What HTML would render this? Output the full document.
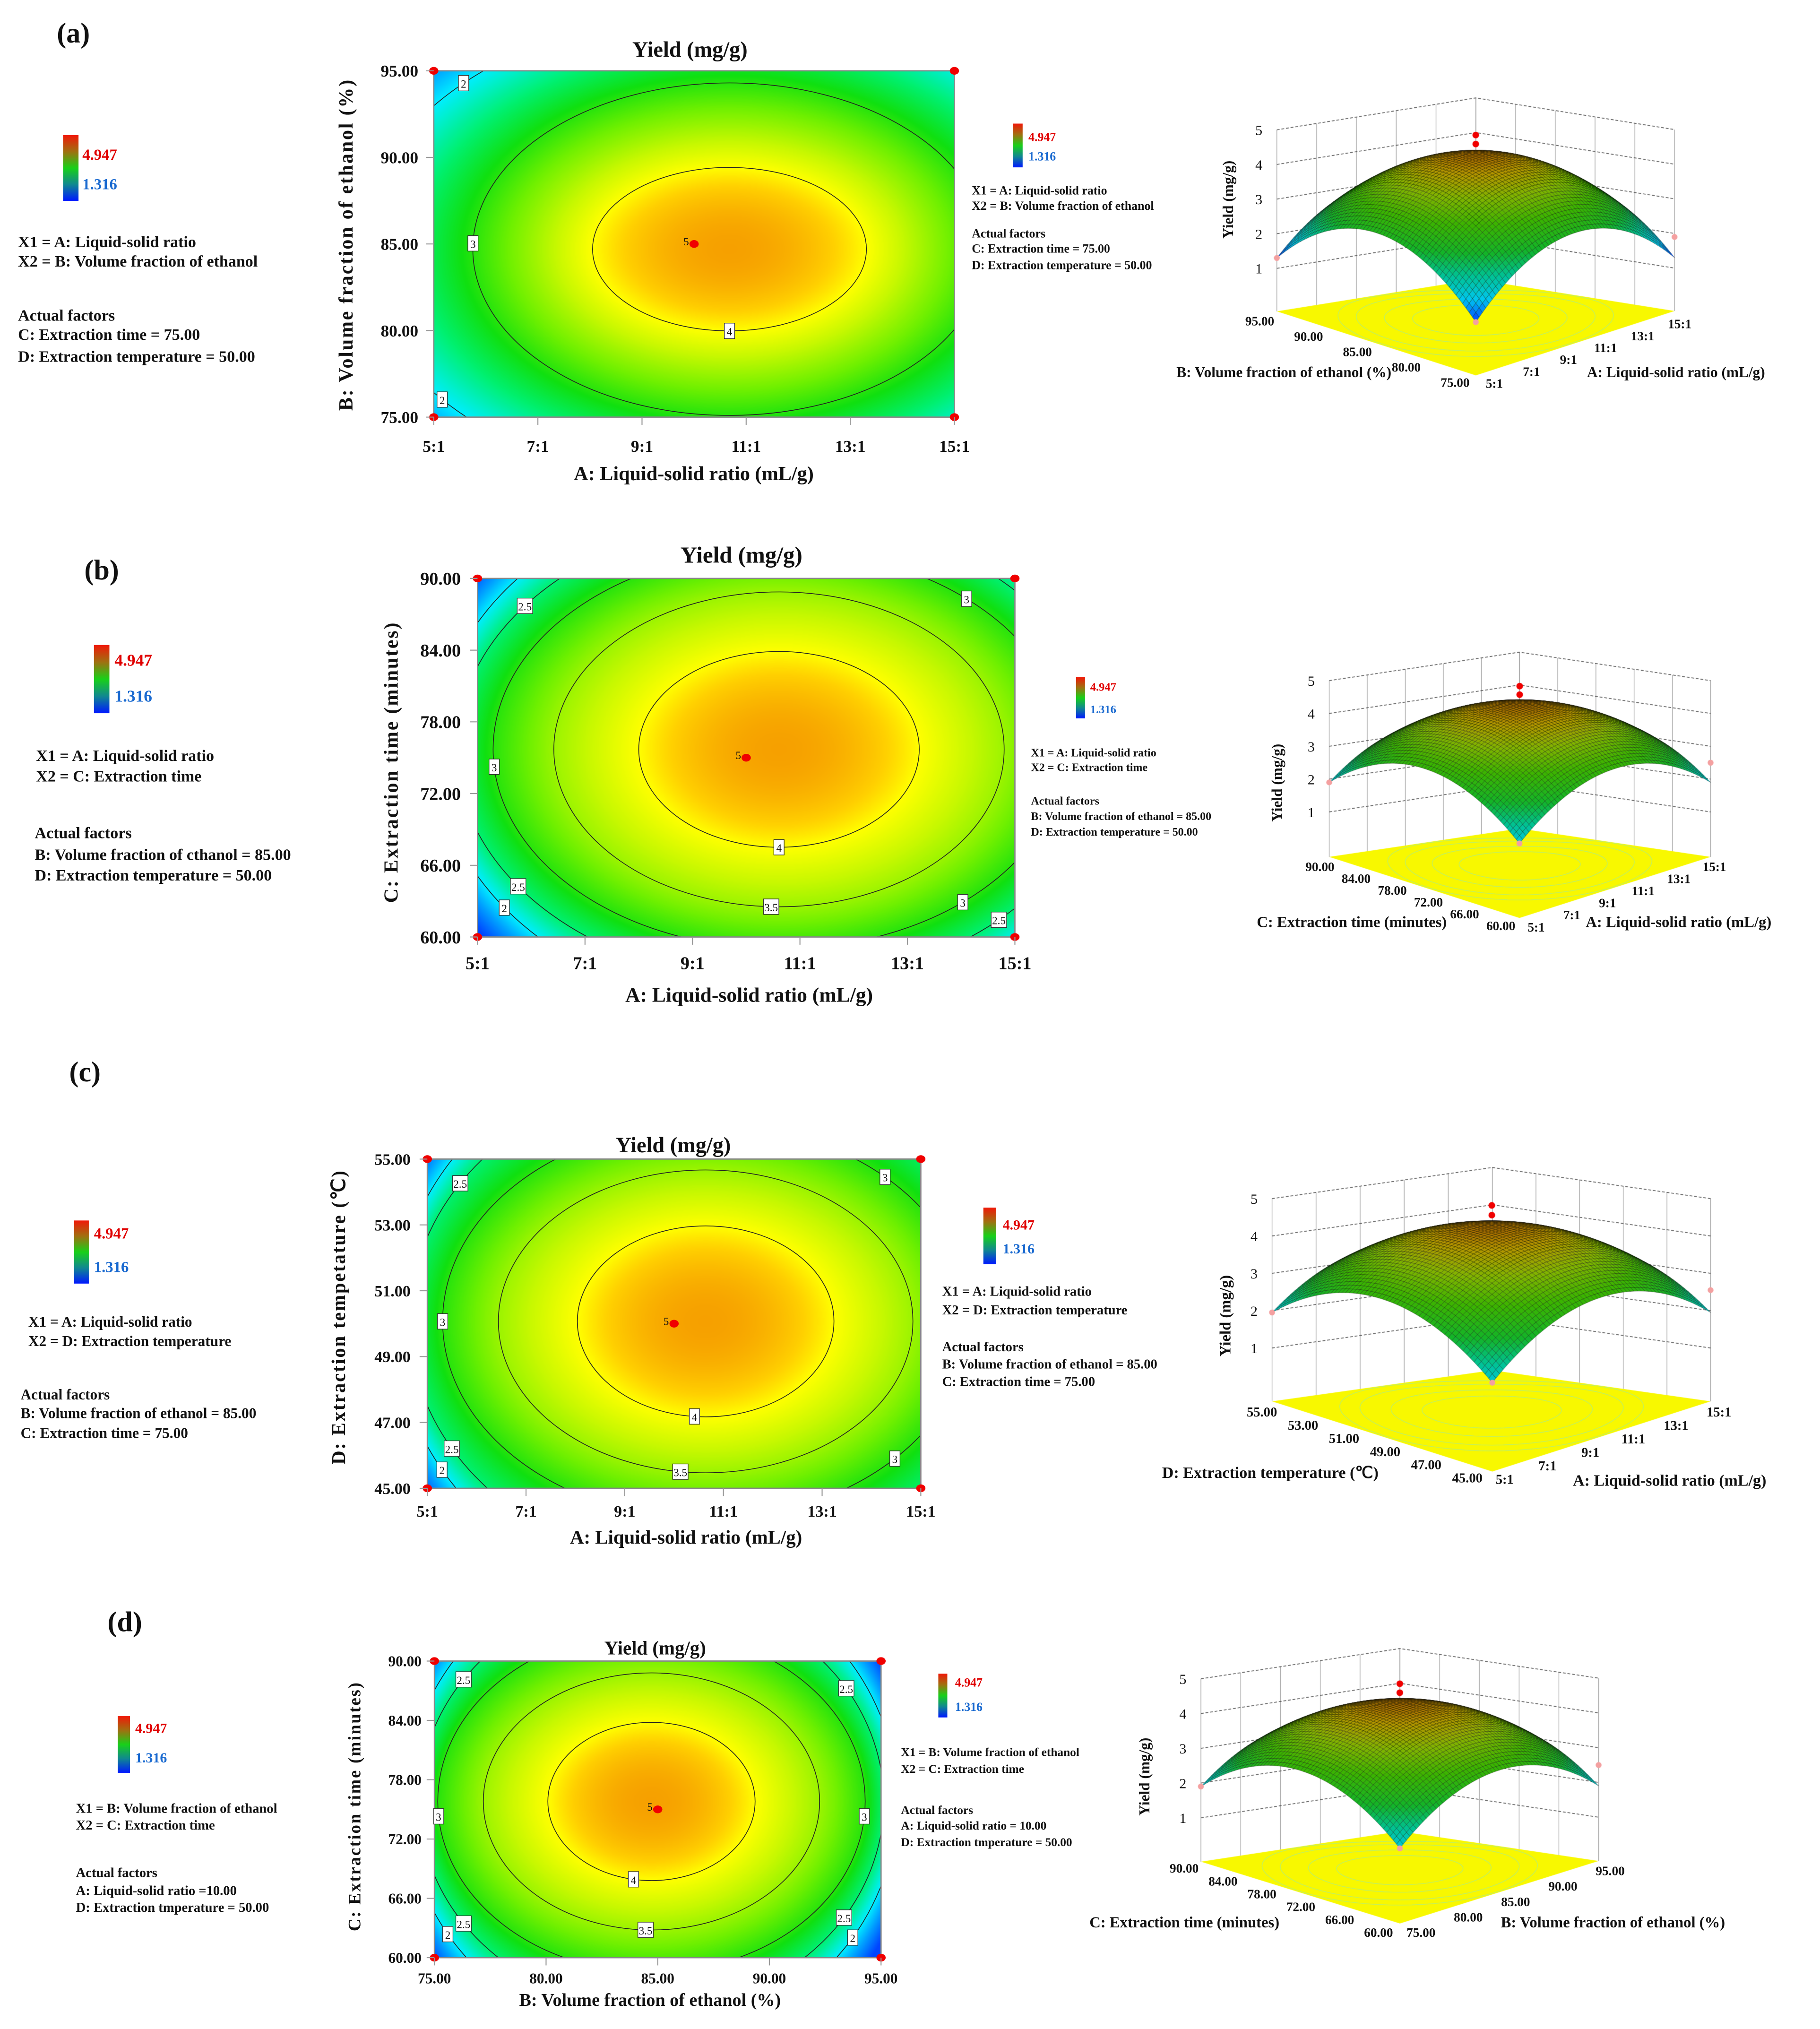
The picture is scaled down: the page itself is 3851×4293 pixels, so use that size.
<!DOCTYPE html>
<html><head><meta charset="utf-8"><title>Response surface plots</title>
<style>
html,body{margin:0;padding:0;background:#fff}
#wrap{position:relative;width:3851px;height:4293px;overflow:hidden;background:#fff}
#cv,#sv{position:absolute;left:0;top:0}
text{font-family:"Liberation Serif",serif;font-weight:bold;fill:#111}
.r{font-weight:normal}
</style></head>
<body>
<div id="wrap">
<canvas id="cv" width="3851" height="4293"></canvas>
<svg id="sv" width="3851" height="4293" viewBox="0 0 1414 1576" preserveAspectRatio="none" xmlns="http://www.w3.org/2000/svg">
<defs>
<linearGradient id="cbar" x1="0" y1="0" x2="0" y2="1">
<stop offset="0" stop-color="#f01808"/><stop offset="0.25" stop-color="#a07010"/><stop offset="0.5" stop-color="#18d018"/><stop offset="0.75" stop-color="#108890"/><stop offset="1" stop-color="#0018ff"/>
</linearGradient>
</defs>

<!-- ===== Panel (a) ===== -->
<text x="57" y="33" font-size="22" text-anchor="middle">(a)</text>
<rect x="49" y="105" width="12" height="51" fill="url(#cbar)"/>
<text x="64" y="124" font-size="12" style="fill:#e00000">4.947</text>
<text x="64" y="147" font-size="12" style="fill:#1a6ad0">1.316</text>
<g font-size="12.5">
<text x="14" y="192">X1 = A: Liquid-solid ratio</text>
<text x="14" y="207">X2 = B: Volume fraction of ethanol</text>
<text x="14" y="249">Actual factors</text>
<text x="14" y="264">C: Extraction time = 75.00</text>
<text x="14" y="281">D: Extraction temperature = 50.00</text>
</g>
<text x="536" y="44" font-size="17" text-anchor="middle">Yield (mg/g)</text>
<text x="539" y="373" font-size="15.5" text-anchor="middle">A: Liquid-solid ratio (mL/g)</text>
<text transform="translate(274,190) rotate(-90)" font-size="15.5" text-anchor="middle" letter-spacing="1">B: Volume fraction of ethanol (%)</text>
<rect x="787" y="96" width="7.5" height="34" fill="url(#cbar)"/>
<text x="799" y="109.5" font-size="9.5" style="fill:#e00000">4.947</text>
<text x="799" y="124.7" font-size="9.5" style="fill:#1a6ad0">1.316</text>
<g font-size="9.5">
<text x="755" y="151">X1 = A: Liquid-solid ratio</text>
<text x="755" y="163">X2 = B: Volume fraction of ethanol</text>
<text x="755" y="184.5">Actual factors</text>
<text x="755" y="196.3">C: Extraction time = 75.00</text>
<text x="755" y="209">D: Extraction temperature = 50.00</text>
</g>
<text transform="translate(958,155) rotate(-90)" font-size="11.5" text-anchor="middle">Yield (mg/g)</text>
<text x="1081" y="293" font-size="11.5" text-anchor="end">B: Volume fraction of ethanol (%)</text>
<text x="1233" y="293" font-size="11.5">A: Liquid-solid ratio (mL/g)</text>

<!-- ===== Panel (b) ===== -->
<text x="79" y="450" font-size="22" text-anchor="middle">(b)</text>
<rect x="73" y="501" width="12" height="53" fill="url(#cbar)"/>
<text x="89" y="517" font-size="13" style="fill:#e00000">4.947</text>
<text x="89" y="545" font-size="13" style="fill:#1a6ad0">1.316</text>
<g font-size="12.5">
<text x="28" y="591">X1 = A: Liquid-solid ratio</text>
<text x="28" y="607">X2 = C: Extraction time</text>
<text x="27" y="651">Actual factors</text>
<text x="27" y="668">B: Volume fraction of cthanol = 85.00</text>
<text x="27" y="684">D: Extraction temperature = 50.00</text>
</g>
<text x="576" y="437" font-size="18" text-anchor="middle">Yield (mg/g)</text>
<text x="582" y="778" font-size="16" text-anchor="middle">A: Liquid-solid ratio (mL/g)</text>
<text transform="translate(309,592) rotate(-90)" font-size="15.5" text-anchor="middle" letter-spacing="1">C: Extraction time (minutes)</text>
<rect x="836" y="526" width="7" height="32" fill="url(#cbar)"/>
<text x="847" y="536.5" font-size="9" style="fill:#e00000">4.947</text>
<text x="847" y="554" font-size="9" style="fill:#1a6ad0">1.316</text>
<g font-size="8.8">
<text x="801" y="587.5">X1 = A: Liquid-solid ratio</text>
<text x="801" y="599">X2 = C: Extraction time</text>
<text x="801" y="625">Actual factors</text>
<text x="801" y="637">B: Volume fraction of ethanol = 85.00</text>
<text x="801" y="649">D: Extraction temperature = 50.00</text>
</g>
<text transform="translate(996,608) rotate(-90)" font-size="11.5" text-anchor="middle">Yield (mg/g)</text>
<text x="1124" y="720" font-size="12" text-anchor="end">C: Extraction time (minutes)</text>
<text x="1232" y="720" font-size="12">A: Liquid-solid ratio (mL/g)</text>

<!-- ===== Panel (c) ===== -->
<text x="66" y="840" font-size="22" text-anchor="middle">(c)</text>
<rect x="57.5" y="948" width="11.5" height="49" fill="url(#cbar)"/>
<text x="73" y="962" font-size="12" style="fill:#e00000">4.947</text>
<text x="73" y="988" font-size="12" style="fill:#1a6ad0">1.316</text>
<g font-size="11.5">
<text x="22" y="1030.5">X1 = A: Liquid-solid ratio</text>
<text x="22" y="1045.5">X2 = D: Extraction temperature</text>
<text x="16" y="1087">Actual factors</text>
<text x="16" y="1101.5">B: Volume fraction of ethanol = 85.00</text>
<text x="16" y="1117">C: Extraction time = 75.00</text>
</g>
<text x="523" y="895" font-size="17" text-anchor="middle">Yield (mg/g)</text>
<text x="533" y="1199" font-size="15" text-anchor="middle">A: Liquid-solid ratio (mL/g)</text>
<text transform="translate(268,1023) rotate(-90)" font-size="15" text-anchor="middle" letter-spacing="1">D: Extraction tempetature (℃)</text>
<rect x="764" y="938" width="10" height="44" fill="url(#cbar)"/>
<text x="779" y="955" font-size="11" style="fill:#e00000">4.947</text>
<text x="779" y="973.5" font-size="11" style="fill:#1a6ad0">1.316</text>
<g font-size="10.5">
<text x="732" y="1006.5">X1 = A: Liquid-solid ratio</text>
<text x="732" y="1021">X2 = D: Extraction temperature</text>
<text x="732" y="1049.5">Actual factors</text>
<text x="732" y="1063">B: Volume fraction of ethanol = 85.00</text>
<text x="732" y="1076.5">C: Extraction time = 75.00</text>
</g>
<text transform="translate(956,1022) rotate(-90)" font-size="12" text-anchor="middle">Yield (mg/g)</text>
<text x="1071" y="1148" font-size="12.5" text-anchor="end">D: Extraction temperature (℃)</text>
<text x="1222" y="1154" font-size="12.5">A: Liquid-solid ratio (mL/g)</text>

<!-- ===== Panel (d) ===== -->
<text x="97" y="1267" font-size="22" text-anchor="middle">(d)</text>
<rect x="91.5" y="1333" width="9.5" height="44" fill="url(#cbar)"/>
<text x="105" y="1346" font-size="11" style="fill:#e00000">4.947</text>
<text x="105" y="1369" font-size="11" style="fill:#1a6ad0">1.316</text>
<g font-size="10.5">
<text x="59" y="1408">X1 = B: Volume fraction of ethanol</text>
<text x="59" y="1421">X2 = C: Extraction time</text>
<text x="59" y="1458">Actual factors</text>
<text x="59" y="1472">A: Liquid-solid ratio =10.00</text>
<text x="59" y="1485">D: Extraction tmperature = 50.00</text>
</g>
<text x="509" y="1285" font-size="15" text-anchor="middle">Yield (mg/g)</text>
<text x="505" y="1558" font-size="14" text-anchor="middle">B: Volume fraction of ethanol (%)</text>
<text transform="translate(280,1403) rotate(-90)" font-size="13.5" text-anchor="middle" letter-spacing="1">C: Extraction time (minutes)</text>
<rect x="729" y="1300" width="7" height="34" fill="url(#cbar)"/>
<text x="742" y="1310" font-size="9.5" style="fill:#e00000">4.947</text>
<text x="742" y="1329" font-size="9.5" style="fill:#1a6ad0">1.316</text>
<g font-size="9.3">
<text x="700" y="1364">X1 = B: Volume fraction of ethanol</text>
<text x="700" y="1377">X2 = C: Extraction time</text>
<text x="700" y="1409">Actual factors</text>
<text x="700" y="1421">A: Liquid-solid ratio = 10.00</text>
<text x="700" y="1434">D: Extraction tmperature = 50.00</text>
</g>
<text transform="translate(893,1380) rotate(-90)" font-size="11.5" text-anchor="middle">Yield (mg/g)</text>
<text x="994" y="1497" font-size="12" text-anchor="end">C: Extraction time (minutes)</text>
<text x="1166" y="1497" font-size="12">B: Volume fraction of ethanol (%)</text>

<g id="dyn"></g>
</svg>
</div>
<script>
// ---------------- DATA ----------------
const aLevels=[4,3,2];
const aSemiX=[2.63,4.93,7.1];
const aSemiY=[4.72,9.6,13.8];
const aCenter=[10.68,84.7];
const aPeak=4.947;
const aLabelAngles=[[-90],[178],[136,-141]];
const aXTicks=[5,7,9,11,13,15];
const aXLabels=['5:1','7:1','9:1','11:1','13:1','15:1'];
const aYTicks=[75,80,85,90,95];
const aYLabels=['75.00','80.00','85.00','90.00','95.00'];
const aDesignX=[5,15,5,15,10];
const aDesignY=[75,75,95,95,85];
const bLevels=[4,3.5,3,2.5,2];
const bSemiX=[2.61,4.19,5.32,6.0,6.4];
const bSemiY=[8.19,13.17,16.7,19.5,22];
const bCenter=[10.61,75.7];
const bPeak=4.947;
const bLabelAngles=[[-90],[-92],[185,49,-50],[142,-144,-47],[-143]];
const bXTicks=[5,7,9,11,13,15];
const bXLabels=['5:1','7:1','9:1','11:1','13:1','15:1'];
const bYTicks=[60,66,72,78,84,90];
const bYLabels=['60.00','66.00','72.00','78.00','84.00','90.00'];
const bDesignX=[5,15,5,15,10];
const bDesignY=[60,60,90,90,75];
const cLevels=[4,3.5,3,2.5,2];
const cSemiX=[2.6,4.2,5.33,6.0,6.3];
const cSemiY=[2.9,4.6,6.0,7.5,8.5];
const cCenter=[10.64,50.07];
const cPeak=4.947;
const cLabelAngles=[[-95],[-97],[180,47,-44],[146,-149],[-148]];
const cXTicks=[5,7,9,11,13,15];
const cXLabels=['5:1','7:1','9:1','11:1','13:1','15:1'];
const cYTicks=[45,47,49,51,53,55];
const cYLabels=['45.00','47.00','49.00','51.00','53.00','55.00'];
const cDesignX=[5,15,5,15,10];
const cDesignY=[45,45,55,55,50];
const dLevels=[4,3.5,3,2.5,2];
const dSemiX=[4.64,7.53,9.57,10.4,11];
const dSemiY=[8.0,13.0,17.3,21,24];
const dCenter=[84.72,75.8];
const dPeak=4.947;
const dLabelAngles=[[-100],[-92],[185,-5],[144,33,-144,-34],[-146,-35]];
const dXTicks=[75,80,85,90,95];
const dXLabels=['75.00','80.00','85.00','90.00','95.00'];
const dYTicks=[60,66,72,78,84,90];
const dYLabels=['60.00','66.00','72.00','78.00','84.00','90.00'];
const dDesignX=[75,95,75,95,85];
const dDesignY=[60,60,90,90,75];
// 3D surfaces: coefficients [peak, c1, c2, c12] of coded quadratic
const a3Coef=[4.5,1.55,1.55,0.1];
const b3Coef=[4.5,1.25,1.25,0.1];
const c3Coef=[4.5,1.25,1.2,0.1];
const d3Coef=[4.5,1.25,1.25,0.1];
const zTicks=[1,2,3,4,5];
const a3U=['5:1','7:1','9:1','11:1','13:1','15:1'];
const a3V=['95.00','90.00','85.00','80.00','75.00'];
const b3U=['5:1','7:1','9:1','11:1','13:1','15:1'];
const b3V=['90.00','84.00','78.00','72.00','66.00','60.00'];
const c3U=['5:1','7:1','9:1','11:1','13:1','15:1'];
const c3V=['55.00','53.00','51.00','49.00','47.00','45.00'];
const d3U=['75.00','80.00','85.00','90.00','95.00'];
const d3V=['90.00','84.00','78.00','72.00','66.00','60.00'];

// ---------------- LAYOUT ----------------
const contourPanels=[
 {id:'a',box:[337,55,741.5,324],xd:[5,15],yd:[75,95],levels:aLevels,semiX:aSemiX,semiY:aSemiY,center:aCenter,peak:aPeak,ang:aLabelAngles,xt:aXTicks,xl:aXLabels,yt:aYTicks,yl:aYLabels,dx:aDesignX,dy:aDesignY,tf:13,xOff:27,yOff:12},
 {id:'b',box:[371,449.3,788.5,727.8],xd:[5,15],yd:[60,90],levels:bLevels,semiX:bSemiX,semiY:bSemiY,center:bCenter,peak:bPeak,ang:bLabelAngles,xt:bXTicks,xl:bXLabels,yt:bYTicks,yl:bYLabels,dx:bDesignX,dy:bDesignY,tf:14,xOff:25,yOff:13},
 {id:'c',box:[332,900.3,715.4,1156],xd:[5,15],yd:[45,55],levels:cLevels,semiX:cSemiX,semiY:cSemiY,center:cCenter,peak:cPeak,ang:cLabelAngles,xt:cXTicks,xl:cXLabels,yt:cYTicks,yl:cYLabels,dx:cDesignX,dy:cDesignY,tf:12.5,xOff:22,yOff:13},
 {id:'d',box:[337.5,1290.2,684.5,1520.6],xd:[75,95],yd:[60,90],levels:dLevels,semiX:dSemiX,semiY:dSemiY,center:dCenter,peak:dPeak,ang:dLabelAngles,xt:dXTicks,xl:dXLabels,yt:dYTicks,yl:dYLabels,dx:dDesignX,dy:dDesignY,tf:11.5,xOff:20,yOff:10}
];
const surfPanels=[
 {id:'a',F:[1146.6,291.6],R:[1301,241.6],L:[992,241.8],B:[1146.6,217],zs:26.9,zmin:-0.24,coef:a3Coef,u:a3U,v:a3V,uFrom:[1161,297.7],uTo:[1305,251.5],vFrom:[978.7,249.3],vTo:[1130.5,297],tf:10},
 {id:'b',F:[1180.5,713],R:[1329,665.6],L:[1032.7,665.6],B:[1180.5,643.5],zs:25.5,zmin:-0.37,coef:b3Coef,u:b3U,v:b3V,uFrom:[1193.5,720],uTo:[1332,673],vFrom:[1025.5,673],vTo:[1166,719],tf:10},
 {id:'c',F:[1159.4,1143],R:[1329,1088.5],L:[988.3,1088.5],B:[1159.4,1064.3],zs:29,zmin:-0.43,coef:c3Coef,u:c3U,v:c3V,uFrom:[1169,1149],uTo:[1335.5,1096.7],vFrom:[980.4,1096.7],vTo:[1140,1148],tf:10.5},
 {id:'d',F:[1087.6,1494],R:[1242,1445.5],L:[933,1446],B:[1087.6,1422.5],zs:27,zmin:-0.26,coef:d3Coef,u:d3U,v:d3V,uFrom:[1104,1501],uTo:[1251,1453],vFrom:[920,1451],vTo:[1071,1501],tf:10}
];

// ---------------- RENDER ----------------
const SX=3851/1414, SY=4293/1576;
const cv=document.getElementById('cv');
const ctx=cv.getContext('2d');
ctx.setTransform(SX,0,0,SY,0,0);
const NS='http://www.w3.org/2000/svg';
const dyn=document.getElementById('dyn');
function mk(tag,attrs,parent){const e=document.createElementNS(NS,tag);for(const k in attrs)e.setAttribute(k,attrs[k]);(parent||dyn).appendChild(e);return e;}

const cmapStops=[[1.3,[0,64,255]],[1.7,[0,160,255]],[2.0,[0,238,255]],[2.5,[0,240,112]],[2.9,[16,224,16]],[3.3,[112,240,0]],[3.7,[200,248,0]],[4.0,[255,255,0]],[4.4,[255,208,0]],[4.95,[246,160,0]]];
const cmap3=[[1.3,[0,60,255]],[1.8,[0,200,240]],[2.3,[0,195,150]],[2.8,[20,180,40]],[3.4,[60,180,0]],[3.9,[130,180,0]],[4.3,[180,150,0]],[4.5,[170,110,0]]];
function cm(stops,v){
 if(v<=stops[0][0])return stops[0][1];
 for(let i=1;i<stops.length;i++){if(v<=stops[i][0]){const t=(v-stops[i-1][0])/(stops[i][0]-stops[i-1][0]);const a=stops[i-1][1],b=stops[i][1];return [a[0]+(b[0]-a[0])*t,a[1]+(b[1]-a[1])*t,a[2]+(b[2]-a[2])*t];}}
 return stops[stops.length-1][1];
}
function valueAt(p,x,y){
 const dx=x-p.center[0],dy=y-p.center[1];const n=p.levels.length;const S=[];
 let prevS=0,prevV=p.peak;
 for(let k=0;k<n;k++){
  const e=Math.sqrt((dx/p.semiX[k])**2+(dy/p.semiY[k])**2);
  const s=e===0?Infinity:1/e;S.push(s);
  if(s>=1){ if(k===0) return p.peak-(p.peak-p.levels[0])*e*e; return prevV+(p.levels[k]-prevV)*(1-prevS)/(s-prevS); }
  prevS=s;prevV=p.levels[k];
 }
 const sA=S[n-2],sB=S[n-1];const LA=p.levels[n-2],LB=p.levels[n-1];
 return Math.max(1.316,LB+(LB-LA)*(1-sB)/(sB-sA));
}
function drawContour(p){
 const [x0,y0,x1,y1]=p.box;const w=x1-x0,h=y1-y0;
 const X=v=>x0+(v-p.xd[0])/(p.xd[1]-p.xd[0])*w;
 const Y=v=>y1-(v-p.yd[0])/(p.yd[1]-p.yd[0])*h;
 const kx=w/(p.xd[1]-p.xd[0]),ky=h/(p.yd[1]-p.yd[0]);
 const R=2,W=Math.round(w*R),H=Math.round(h*R);
 const oc=document.createElement('canvas');oc.width=W;oc.height=H;const oct=oc.getContext('2d');
 const img=oct.createImageData(W,H);const d=img.data;
 for(let j=0;j<H;j++){const yv=p.yd[1]-(j+.5)/H*(p.yd[1]-p.yd[0]);
  for(let i=0;i<W;i++){const xv=p.xd[0]+(i+.5)/W*(p.xd[1]-p.xd[0]);
   const c=cm(cmapStops,valueAt(p,xv,yv));const o=(j*W+i)*4;d[o]=c[0];d[o+1]=c[1];d[o+2]=c[2];d[o+3]=255;}}
 oct.putImageData(img,0,0);
 ctx.imageSmoothingEnabled=true;ctx.drawImage(oc,x0,y0,w,h);
 const g=mk('g',{});
 
 
 const clip=mk('clipPath',{id:'clip'+p.id},g);
 mk('rect',{x:x0,y:y0,width:w,height:h},clip);
 const lines=mk('g',{'clip-path':'url(#clip'+p.id+')'},g);
 p.levels.forEach((L,k)=>{
  const e=mk('ellipse',{cx:X(p.center[0]),cy:Y(p.center[1]),rx:p.semiX[k]*kx,ry:p.semiY[k]*ky,fill:'none',stroke:'#222','stroke-width':0.6},lines);
  
  
 });
 mk('rect',{x:x0,y:y0,width:w,height:h,fill:'none',stroke:'#888','stroke-width':1},g);
 p.levels.forEach((L,k)=>{
  p.ang[k].forEach(a=>{
   const t=a*Math.PI/180;
   const px=X(p.center[0]+p.semiX[k]*Math.cos(t)),py=Y(p.center[1]+p.semiY[k]*Math.sin(t));
   if(px<x0||px>x1||py<y0||py>y1)return;
   const txt=String(L);const bw=txt.length>1?12:8;
   const lg=mk('g',{},g);
   
   
   mk('rect',{x:px-bw/2,y:py-6,width:bw,height:12,fill:'#fff',stroke:'#333','stroke-width':0.5},lg);
   const tx=mk('text',{x:px,y:py+3.5,'font-size':8.5,'text-anchor':'middle','class':'r'},lg);tx.textContent=txt;
  });
 });
 p.dx.forEach((dv,i)=>{
  const m=mk('ellipse',{cx:X(dv),cy:Y(p.dy[i]),rx:3.6,ry:3,fill:'#f00000'},g);
  
  
 });
 const ci=p.dx.length-1;
 const five=mk('text',{x:X(p.dx[ci])-4,y:Y(p.dy[ci])+1,'font-size':8.5,'text-anchor':'end','class':'r'},g);five.textContent='5';
 p.xt.forEach((v,i)=>{
  mk('line',{x1:X(v),y1:y1,x2:X(v),y2:y1+6,stroke:'#999','stroke-width':0.8},g);
  const t=mk('text',{x:X(v),y:y1+p.xOff,'font-size':p.tf,'text-anchor':'middle'},g);
  
  
  t.textContent=p.xl[i];
 });
 p.yt.forEach((v,i)=>{
  mk('line',{x1:x0-6,y1:Y(v),x2:x0,y2:Y(v),stroke:'#999','stroke-width':0.8},g);
  const t=mk('text',{x:x0-p.yOff,y:Y(v)+p.tf*0.35,'font-size':p.tf,'text-anchor':'end'},g);
  
  
  t.textContent=p.yl[i];
 });
}
function proj(g,u,v,z){
 const F=g.F,R=g.R,L=g.L,B=g.B;
 const x=(1-u)*(1-v)*F[0]+u*(1-v)*R[0]+(1-u)*v*L[0]+u*v*B[0];
 const y=(1-u)*(1-v)*F[1]+u*(1-v)*R[1]+(1-u)*v*L[1]+u*v*B[1];
 return [x,y-(z-g.zmin)*g.zs];
}
function surfVal(c,u,v){const X=2*u-1,Y=2*v-1;return c[0]-c[1]*X*X-c[2]*Y*Y-c[3]*X*X*Y*Y;}
function drawSurface(g){
 const zmin=g.zmin;
 ctx.beginPath();let p=proj(g,0,0,zmin);ctx.moveTo(p[0],p[1]);
 [[1,0],[1,1],[0,1]].forEach(q=>{p=proj(g,q[0],q[1],zmin);ctx.lineTo(p[0],p[1]);});
 ctx.closePath();ctx.fillStyle='#f8f800';ctx.fill();
 ctx.strokeStyle='#b8ee70';ctx.lineWidth=0.5;
 [0.45,0.65,0.85,0.98].forEach(r=>{ctx.beginPath();for(let k=0;k<=72;k++){const t=k/72*2*Math.PI;const q=proj(g,.5+.5*r*Math.cos(t),.5+.5*r*Math.sin(t),zmin);k?ctx.lineTo(q[0],q[1]):ctx.moveTo(q[0],q[1]);}ctx.stroke();});
 ctx.strokeStyle='#999';ctx.lineWidth=0.45;ctx.setLineDash([]);
 for(let i=0;i<=5;i++){const t=i/5;
  let a=proj(g,t,1,zmin),b=proj(g,t,1,5);ctx.beginPath();ctx.moveTo(a[0],a[1]);ctx.lineTo(b[0],b[1]);ctx.stroke();
  a=proj(g,1,t,zmin);b=proj(g,1,t,5);ctx.beginPath();ctx.moveTo(a[0],a[1]);ctx.lineTo(b[0],b[1]);ctx.stroke();}
 ctx.strokeStyle='#555';ctx.lineWidth=0.6;ctx.setLineDash([2.2,1.4]);
 zTicks.forEach(z=>{const a=proj(g,0,1,z),b=proj(g,1,1,z),c=proj(g,1,0,z);ctx.beginPath();ctx.moveTo(a[0],a[1]);ctx.lineTo(b[0],b[1]);ctx.lineTo(c[0],c[1]);ctx.stroke();});
 ctx.setLineDash([]);
 const N=60;
 for(let s=2*N-2;s>=0;s--){
  for(let i=0;i<N;i++){const j=s-i;if(j<0||j>=N)continue;
   const u0=i/N,u1=(i+1)/N,v0=j/N,v1=(j+1)/N;
   const pts=[[u0,v0],[u1,v0],[u1,v1],[u0,v1]].map(q=>proj(g,q[0],q[1],surfVal(g.coef,q[0],q[1])));
   const c=cm(cmap3,surfVal(g.coef,(u0+u1)/2,(v0+v1)/2));
   ctx.beginPath();ctx.moveTo(pts[0][0],pts[0][1]);for(let k=1;k<4;k++)ctx.lineTo(pts[k][0],pts[k][1]);ctx.closePath();
   ctx.fillStyle='rgb('+(c[0]|0)+','+(c[1]|0)+','+(c[2]|0)+')';ctx.fill();
   ctx.strokeStyle='rgba(0,0,0,0.6)';ctx.lineWidth=0.25;ctx.stroke();
  }
 }
 [[.5,.5,5.08],[.5,.5,4.82]].forEach(m=>{const q=proj(g,m[0],m[1],m[2]);ctx.beginPath();ctx.ellipse(q[0],q[1],2.6,2.6,0,0,7);ctx.fillStyle='#f00000';ctx.fill();});
 [[0,1,surfVal(g.coef,0,1)],[1,0,surfVal(g.coef,1,0)+0.6],[0,0,surfVal(g.coef,0,0)]].forEach(m=>{const q=proj(g,m[0],m[1],m[2]);ctx.beginPath();ctx.ellipse(q[0],q[1],2.3,2.3,0,0,7);ctx.fillStyle='#f4a0a0';ctx.fill();});
 const gg=mk('g',{});
 
 
 zTicks.forEach(z=>{const q=proj(g,0,1,z);const t=mk('text',{x:q[0]-14,y:q[1]+4,'font-size':11,'text-anchor':'middle','class':'r'},gg);
  
  
  t.textContent=z;});
 g.u.forEach((lab,i)=>{const t=i/(g.u.length-1);const x=g.uFrom[0]+(g.uTo[0]-g.uFrom[0])*t,y=g.uFrom[1]+(g.uTo[1]-g.uFrom[1])*t;
  const e=mk('text',{x:x,y:y+3.5,'font-size':g.tf,'text-anchor':'middle'},gg);
  
  
  e.textContent=lab;});
 g.v.forEach((lab,i)=>{const t=i/(g.v.length-1);const x=g.vFrom[0]+(g.vTo[0]-g.vFrom[0])*t,y=g.vFrom[1]+(g.vTo[1]-g.vFrom[1])*t;
  const e=mk('text',{x:x,y:y+3.5,'font-size':g.tf,'text-anchor':'middle'},gg);
  
  
  e.textContent=lab;});
}
contourPanels.forEach(drawContour);
surfPanels.forEach(drawSurface);
</script>
</body></html>
